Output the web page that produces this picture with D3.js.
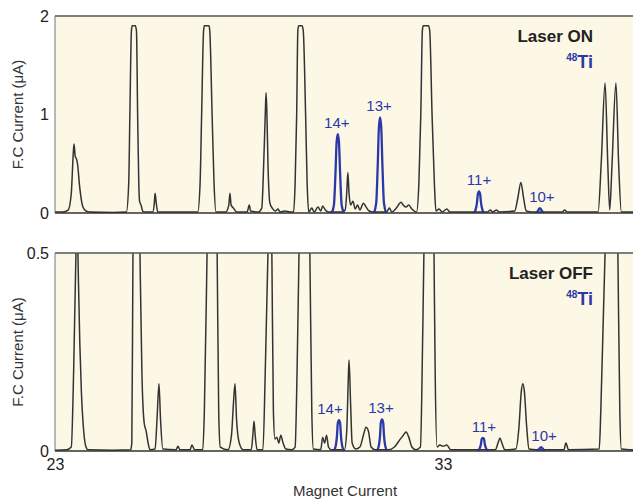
<!DOCTYPE html>
<html>
<head>
<meta charset="utf-8">
<script src="https://cdn.jsdelivr.net/npm/d3@7/dist/d3.min.js"></script>
<style>
  body { margin: 0; background: #fff; }
  text { font-family: "Liberation Sans", Arial, sans-serif; }
</style>
</head>
<body>
<div id="chart"></div>
<script>
// magnet current range and tick labels
var xDomain = [23, 37.9];
var xTicks = [23, 33];
var onTicks = [0, 1, 2];
var offTicks = [0, 0.5];

// black trace, laser ON (values in uA, clipped peaks drawn flat at ~1.9)
var onTrace = [
  [23.00,0.01],[23.20,0.01],[23.34,0.03],[23.42,0.2],[23.47,0.6],[23.49,0.70],[23.52,0.58],[23.56,0.54],
  [23.58,0.5],[23.64,0.25],[23.72,0.06],[23.80,0.02],[23.90,0.01],[24.50,0.005],[24.84,0.01],[24.90,0.3],
  [24.93,1.0],[24.97,1.85],[24.99,1.9],[25.07,1.9],[25.10,1.85],[25.13,1.0],[25.16,0.3],[25.18,0.12],
  [25.22,0.08],[25.26,0.02],[25.35,0.01],[25.52,0.01],[25.56,0.1],[25.58,0.2],[25.61,0.1],[25.65,0.01],
  [26.50,0.01],[26.68,0.01],[26.74,0.3],[26.78,1.0],[26.83,1.85],[26.85,1.9],[26.97,1.9],[26.99,1.85],
  [27.05,1.0],[27.10,0.3],[27.15,0.01],[27.40,0.01],[27.48,0.08],[27.51,0.2],[27.54,0.08],[27.60,0.05],
  [27.68,0.01],[27.95,0.01],[28.01,0.08],[28.04,0.02],[28.25,0.01],[28.33,0.05],[28.38,0.5],[28.42,1.0],
  [28.44,1.22],[28.46,1.05],[28.49,0.5],[28.54,0.1],[28.60,0.05],[28.68,0.02],[28.75,0.04],[28.80,0.01],
  [28.93,0.02],[29.05,0.01],[29.15,0.01],[29.19,0.3],[29.23,1.0],[29.26,1.85],[29.28,1.9],[29.37,1.9],
  [29.40,1.85],[29.46,1.0],[29.50,0.3],[29.54,0.01],[29.62,0.05],[29.68,0.01],[29.78,0.06],[29.85,0.02],
  [29.90,0.07],[29.97,0.03],[30.05,0.01],[30.40,0.01],[30.48,0.03],[30.52,0.2],[30.55,0.41],[30.58,0.2],
  [30.62,0.08],[30.68,0.12],[30.74,0.04],[30.80,0.08],[30.86,0.03],[30.95,0.1],[31.02,0.06],[31.10,0.02],
  [31.20,0.01],[31.55,0.01],[31.62,0.05],[31.68,0.01],[31.80,0.05],[31.92,0.11],[31.98,0.08],[32.05,0.06],
  [32.12,0.08],[32.20,0.04],[32.32,0.01],[32.38,0.3],[32.43,1.0],[32.47,1.85],[32.49,1.9],[32.63,1.9],
  [32.66,1.85],[32.72,1.0],[32.78,0.3],[32.82,0.02],[32.90,0.04],[32.98,0.01],[33.10,0.04],[33.18,0.01],
  [34.15,0.01],[34.22,0.03],[34.28,0.01],[34.38,0.03],[34.45,0.01],[34.85,0.02],[34.93,0.15],[35.01,0.31],
  [35.08,0.15],[35.15,0.02],[35.30,0.01],[36.08,0.01],[36.14,0.03],[36.20,0.01],[37.00,0.01],[37.08,0.5],
  [37.18,1.32],[37.25,0.5],[37.30,0.03],[37.36,0.5],[37.46,1.32],[37.53,0.5],[37.60,0.01],[37.90,0.01]
];

// black trace, laser OFF (big peaks run off the top of the 0.5 scale)
var offTrace = [
  [23.00,0.002],[23.30,0.003],[23.42,0.01],[23.48,0.2],[23.53,0.45],[23.57,0.6],[23.60,0.45],[23.64,0.27],
  [23.68,0.15],[23.74,0.05],[23.80,0.01],[23.85,0.003],[24.50,0.002],[24.95,0.003],[24.98,0.02],[25.01,0.5],
  [25.08,1.0],[25.12,1.0],[25.19,0.5],[25.24,0.2],[25.30,0.07],[25.35,0.05],[25.40,0.02],[25.45,0.003],
  [25.58,0.005],[25.63,0.08],[25.68,0.17],[25.72,0.08],[25.78,0.005],[26.12,0.003],[26.17,0.012],[26.22,0.003],
  [26.48,0.003],[26.53,0.015],[26.60,0.003],[26.81,0.003],[26.85,0.1],[26.92,0.5],[27.00,1.0],[27.10,1.0],
  [27.18,0.5],[27.22,0.1],[27.26,0.01],[27.46,0.003],[27.55,0.04],[27.60,0.12],[27.64,0.17],[27.68,0.08],
  [27.75,0.02],[27.85,0.003],[28.06,0.003],[28.10,0.04],[28.13,0.075],[28.16,0.04],[28.21,0.003],[28.36,0.003],
  [28.42,0.2],[28.49,0.5],[28.54,0.8],[28.59,0.5],[28.63,0.1],[28.67,0.03],[28.72,0.035],[28.77,0.02],
  [28.82,0.04],[28.88,0.02],[28.95,0.005],[29.10,0.003],[29.19,0.01],[29.24,0.2],[29.29,0.5],[29.38,1.0],
  [29.48,1.0],[29.57,0.5],[29.62,0.1],[29.66,0.005],[29.85,0.003],[29.90,0.035],[29.95,0.02],[30.00,0.04],
  [30.05,0.01],[30.12,0.003],[30.46,0.003],[30.52,0.05],[30.56,0.18],[30.58,0.23],[30.62,0.12],[30.66,0.02],
  [30.75,0.005],[30.86,0.01],[30.95,0.04],[31.02,0.06],[31.08,0.05],[31.15,0.01],[31.25,0.003],[31.60,0.003],
  [31.75,0.01],[31.90,0.03],[31.98,0.04],[32.05,0.048],[32.12,0.035],[32.20,0.01],[32.30,0.003],[32.42,0.01],
  [32.48,0.3],[32.51,0.5],[32.60,1.0],[32.70,1.0],[32.77,0.5],[32.80,0.2],[32.85,0.01],[32.92,0.015],
  [33.00,0.012],[33.10,0.015],[33.20,0.003],[34.35,0.003],[34.42,0.02],[34.47,0.033],[34.52,0.02],[34.60,0.003],
  [34.88,0.005],[34.96,0.06],[35.02,0.15],[35.06,0.17],[35.10,0.15],[35.16,0.06],[35.22,0.005],[35.40,0.003],
  [36.12,0.003],[36.17,0.02],[36.24,0.003],[37.03,0.005],[37.07,0.1],[37.18,0.5],[37.30,1.2],[37.40,1.2],
  [37.51,0.5],[37.56,0.1],[37.60,0.005],[37.90,0.003]
];

// 48Ti charge states (blue peaks)
var chargeNames = ["14+", "13+", "11+", "10+"];
var onTiPeaks = [
  [[30.13,0],[30.19,0.08],[30.23,0.4],[30.26,0.72],[30.29,0.80],[30.32,0.72],[30.35,0.4],[30.39,0.08],[30.45,0]],
  [[31.22,0],[31.28,0.1],[31.32,0.49],[31.35,0.87],[31.38,0.97],[31.41,0.87],[31.44,0.49],[31.48,0.1],[31.54,0]],
  [[33.79,0],[33.84,0.03],[33.88,0.11],[33.90,0.19],[33.93,0.22],[33.96,0.19],[33.98,0.11],[34.02,0.03],[34.07,0]],
  [[35.38,0],[35.43,0.01],[35.46,0.03],[35.50,0.05],[35.54,0.03],[35.57,0.01],[35.62,0]]
];
var offTiPeaks = [
  [[30.18,0],[30.23,0.01],[30.27,0.04],[30.29,0.07],[30.32,0.078],[30.35,0.07],[30.37,0.04],[30.41,0.01],[30.46,0]],
  [[31.29,0],[31.34,0.01],[31.38,0.04],[31.40,0.072],[31.43,0.08],[31.46,0.072],[31.48,0.04],[31.52,0.01],[31.57,0]],
  [[33.89,0],[33.94,0.005],[33.98,0.017],[34.00,0.03],[34.03,0.033],[34.06,0.03],[34.08,0.017],[34.12,0.005],[34.17,0]],
  [[35.42,0],[35.47,0.004],[35.53,0.01],[35.59,0.004],[35.64,0]]
];

var W = 633, H = 502;
var blue = "#2b38a8";
var ink = "#333";

var svg = d3.select("#chart").append("svg")
  .attr("width", W).attr("height", H);

var x = d3.scaleLinear().domain(xDomain).range([55, 633]);

function drawPanel(id, yScale, ticks, fmt, trace, tiPeaks, title, labelDx) {
  var y0 = yScale.range()[0], y1 = yScale.range()[1];
  var g = svg.append("g");

  g.append("clipPath").attr("id", id)
    .append("rect").attr("x", 55).attr("y", y1).attr("width", W - 55).attr("height", y0 - y1);

  g.append("rect")
    .attr("x", 55).attr("y", y1).attr("width", W - 55).attr("height", y0 - y1)
    .attr("fill", "#fcf8e5");

  var line = d3.line()
    .x(function(d) { return x(d[0]); })
    .y(function(d) { return yScale(d[1]); })
    .curve(d3.curveMonotoneX);

  var plot = g.append("g").attr("clip-path", "url(#" + id + ")");

  plot.append("path").attr("d", line(trace))
    .attr("fill", "none").attr("stroke", ink).attr("stroke-width", 1.5)
    .attr("stroke-linejoin", "round");

  plot.selectAll("path.ti").data(tiPeaks).enter().append("path")
    .attr("class", "ti")
    .attr("d", line)
    .attr("fill", "none").attr("stroke", blue).attr("stroke-width", 2.3);

  // frame: top, left, baseline
  g.append("line").attr("x1", 55).attr("x2", W).attr("y1", y1).attr("y2", y1)
    .attr("stroke", "#555").attr("stroke-width", 1.5);
  g.append("line").attr("x1", 55).attr("x2", 55).attr("y1", y1).attr("y2", y0)
    .attr("stroke", "#777").attr("stroke-width", 1);
  g.append("line").attr("x1", 55).attr("x2", W).attr("y1", y0).attr("y2", y0)
    .attr("stroke", "#333").attr("stroke-width", 1.5);

  var ax = g.append("g").attr("transform", "translate(55,0)")
    .call(d3.axisLeft(yScale).tickValues(ticks).tickSize(0).tickPadding(6).tickFormat(fmt));
  ax.select(".domain").remove();
  ax.selectAll("text").attr("font-size", 16).attr("fill", "#222")
    .style("font-family", "'Liberation Sans', Arial, sans-serif");

  // charge state labels above the blue peaks
  g.selectAll("text.cs").data(tiPeaks).enter().append("text")
    .attr("class", "cs")
    .attr("x", function(d, i) {
      var top = d3.greatest(d, function(p) { return p[1]; });
      return x(top[0]) + labelDx[i];
    })
    .attr("y", function(d) {
      var top = d3.greatest(d, function(p) { return p[1]; });
      return yScale(top[1]) - 6;
    })
    .attr("text-anchor", "middle").attr("font-size", 15).attr("fill", blue)
    .text(function(d, i) { return chargeNames[i]; });

  g.append("text").attr("x", 593).attr("y", y1 + 26)
    .attr("text-anchor", "end").attr("font-size", 17).attr("font-weight", "bold")
    .attr("fill", "#222").text(title);

  var ti = g.append("text").attr("x", 593).attr("y", y1 + 52)
    .attr("text-anchor", "end").attr("font-size", 18).attr("font-weight", "bold").attr("fill", blue);
  ti.append("tspan").attr("font-size", 10).attr("dy", -7).text("48");
  ti.append("tspan").attr("font-size", 18).attr("dy", 7).text("Ti");

  g.append("text")
    .attr("transform", "translate(23," + ((y0 + y1) / 2) + ") rotate(-90)")
    .attr("text-anchor", "middle").attr("font-size", 15).attr("fill", "#333")
    .text("F.C Current (\u03bcA)");
}

var yOn = d3.scaleLinear().domain([0, 2]).range([213, 16]);
var yOff = d3.scaleLinear().domain([0, 0.5]).range([451, 253]);

drawPanel("clipOn", yOn, onTicks, d3.format("d"), onTrace, onTiPeaks, "Laser ON", [-1, -1, 0, 2]);
drawPanel("clipOff", yOff, offTicks, function(d) { return d === 0 ? "0" : d3.format(".1f")(d); },
  offTrace, offTiPeaks, "Laser OFF", [-9, -1, 1, 3]);

var xa = svg.append("g").attr("transform", "translate(0,451)")
  .call(d3.axisBottom(x).tickValues(xTicks).tickSize(0).tickPadding(8).tickFormat(d3.format("d")));
xa.select(".domain").remove();
xa.selectAll("text").attr("font-size", 16).attr("fill", "#222")
  .style("font-family", "'Liberation Sans', Arial, sans-serif");

svg.append("text").attr("x", 345).attr("y", 496)
  .attr("text-anchor", "middle").attr("font-size", 15).attr("fill", "#333")
  .text("Magnet Current");
</script>
</body>
</html>
